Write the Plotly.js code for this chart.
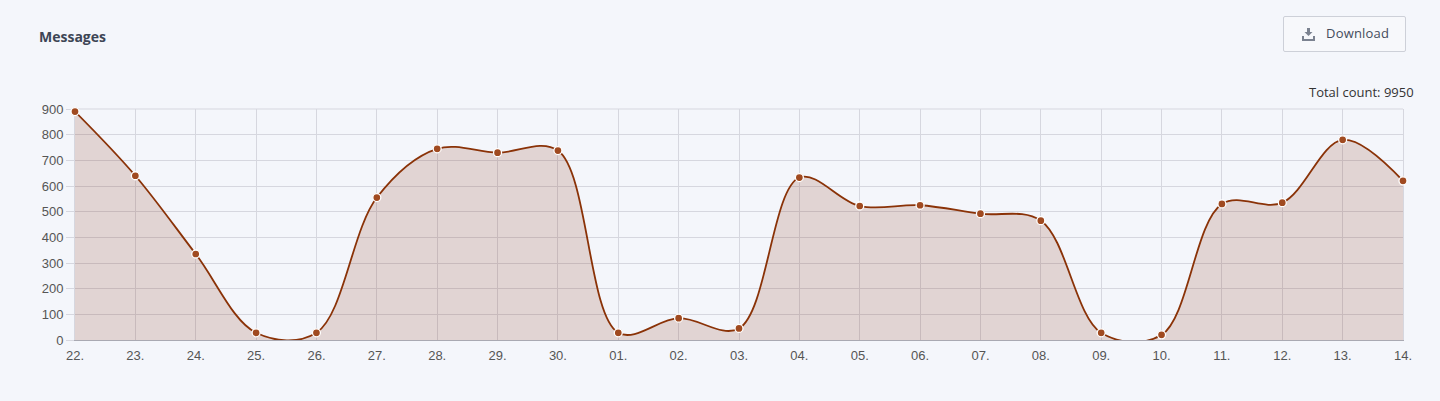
<!DOCTYPE html>
<html><head><meta charset="utf-8">
<script src="https://cdn.plot.ly/plotly-3.0.1.min.js"></script>
<style>
html,body{margin:0;padding:0;background:#f4f6fb;width:1440px;height:401px;overflow:hidden}
#chart{position:absolute;left:0;top:0;width:1440px;height:401px}
#dl{position:absolute;left:1283px;top:16px;width:123px;height:36px;box-sizing:border-box;border:1px solid #cdd0d8;border-radius:2px;background:#f7f8fb;display:flex;align-items:center;font:13px "Open Sans",sans-serif;color:#454c5c;padding:0 0 2px 18px;letter-spacing:.2px}
#dl svg{margin-right:11px;margin-top:2px}
</style></head><body>
<div id="chart"></div>
<div id="dl"><svg width="13" height="13" viewBox="0 0 13 13"><path d="M5 0h3v4h2.500L6.500 8 2.500 4H5z M0 8h2v3h9V8h2v5H0z" fill="#7b8290"/></svg>Download</div>
<script>
const days = ['22.','23.','24.','25.','26.','27.','28.','29.','30.','01.','02.','03.','04.','05.','06.','07.','08.','09.','10.','11.','12.','13.','14.'];
const messages = [890,640,335,28,28,555,745,730,738,28,85,45,633,522,525,492,465,28,20,530,535,780,620];
const yTicks = [0,100,200,300,400,500,600,700,800,900];
const titleText = 'Messages';
const totalText = 'Total count: 9950';
const gridColor = '#d6d7df';

Plotly.newPlot('chart',[{
  x: days.map((d,i)=>i), y: messages, type:'scatter', mode:'lines+markers',
  line:{shape:'spline',smoothing:1,color:'#8a3207',width:1.8},
  marker:{size:8,color:'#a04a20',line:{color:'#ffffff',width:1.3}},
  fill:'tozeroy', fillcolor:'rgba(131,40,7,0.16)', cliponaxis:false, hoverinfo:'skip'
}],{
  width:1440,height:401,
  margin:{l:75,r:37,t:109,b:61,pad:0},
  paper_bgcolor:'#f4f6fb',plot_bgcolor:'#f4f6fb',
  showlegend:false,
  title:{text:titleText,x:39/1440,xanchor:'left',y:1-37/401,yanchor:'middle',font:{family:'Open Sans',size:14,color:'#3d4555',weight:700}},
  xaxis:{range:[0,days.length-1],tickmode:'array',tickvals:days.map((d,i)=>i),ticktext:days,layer:'below traces',
    showgrid:true,gridcolor:gridColor,gridwidth:1,zeroline:false,showline:true,linecolor:'#a9a9b2',linewidth:1,
    ticks:'outside',ticklen:3,tickcolor:'rgba(0,0,0,0)',tickfont:{family:'Liberation Sans',size:13,color:'#555'}},
  yaxis:{range:[0,900],tickmode:'array',tickvals:yTicks,layer:'below traces',
    showgrid:true,gridcolor:gridColor,gridwidth:1,zeroline:false,showline:true,mirror:true,linecolor:gridColor,linewidth:1,
    ticks:'outside',ticklen:8,tickcolor:gridColor,tickfont:{family:'Liberation Sans',size:13,color:'#555'}},
  shapes:[{type:'line',xref:'paper',yref:'paper',x0:0,x1:1,y0:1,y1:1,line:{color:gridColor,width:1},layer:'below'}],
  annotations:[{xref:'paper',yref:'paper',x:1+13/1328,y:1+6/231,xanchor:'right',yanchor:'bottom',showarrow:false,
    text:totalText,font:{family:'Open Sans',size:13,color:'#333'}}]
},{displayModeBar:false,staticPlot:true});
</script></body></html>
